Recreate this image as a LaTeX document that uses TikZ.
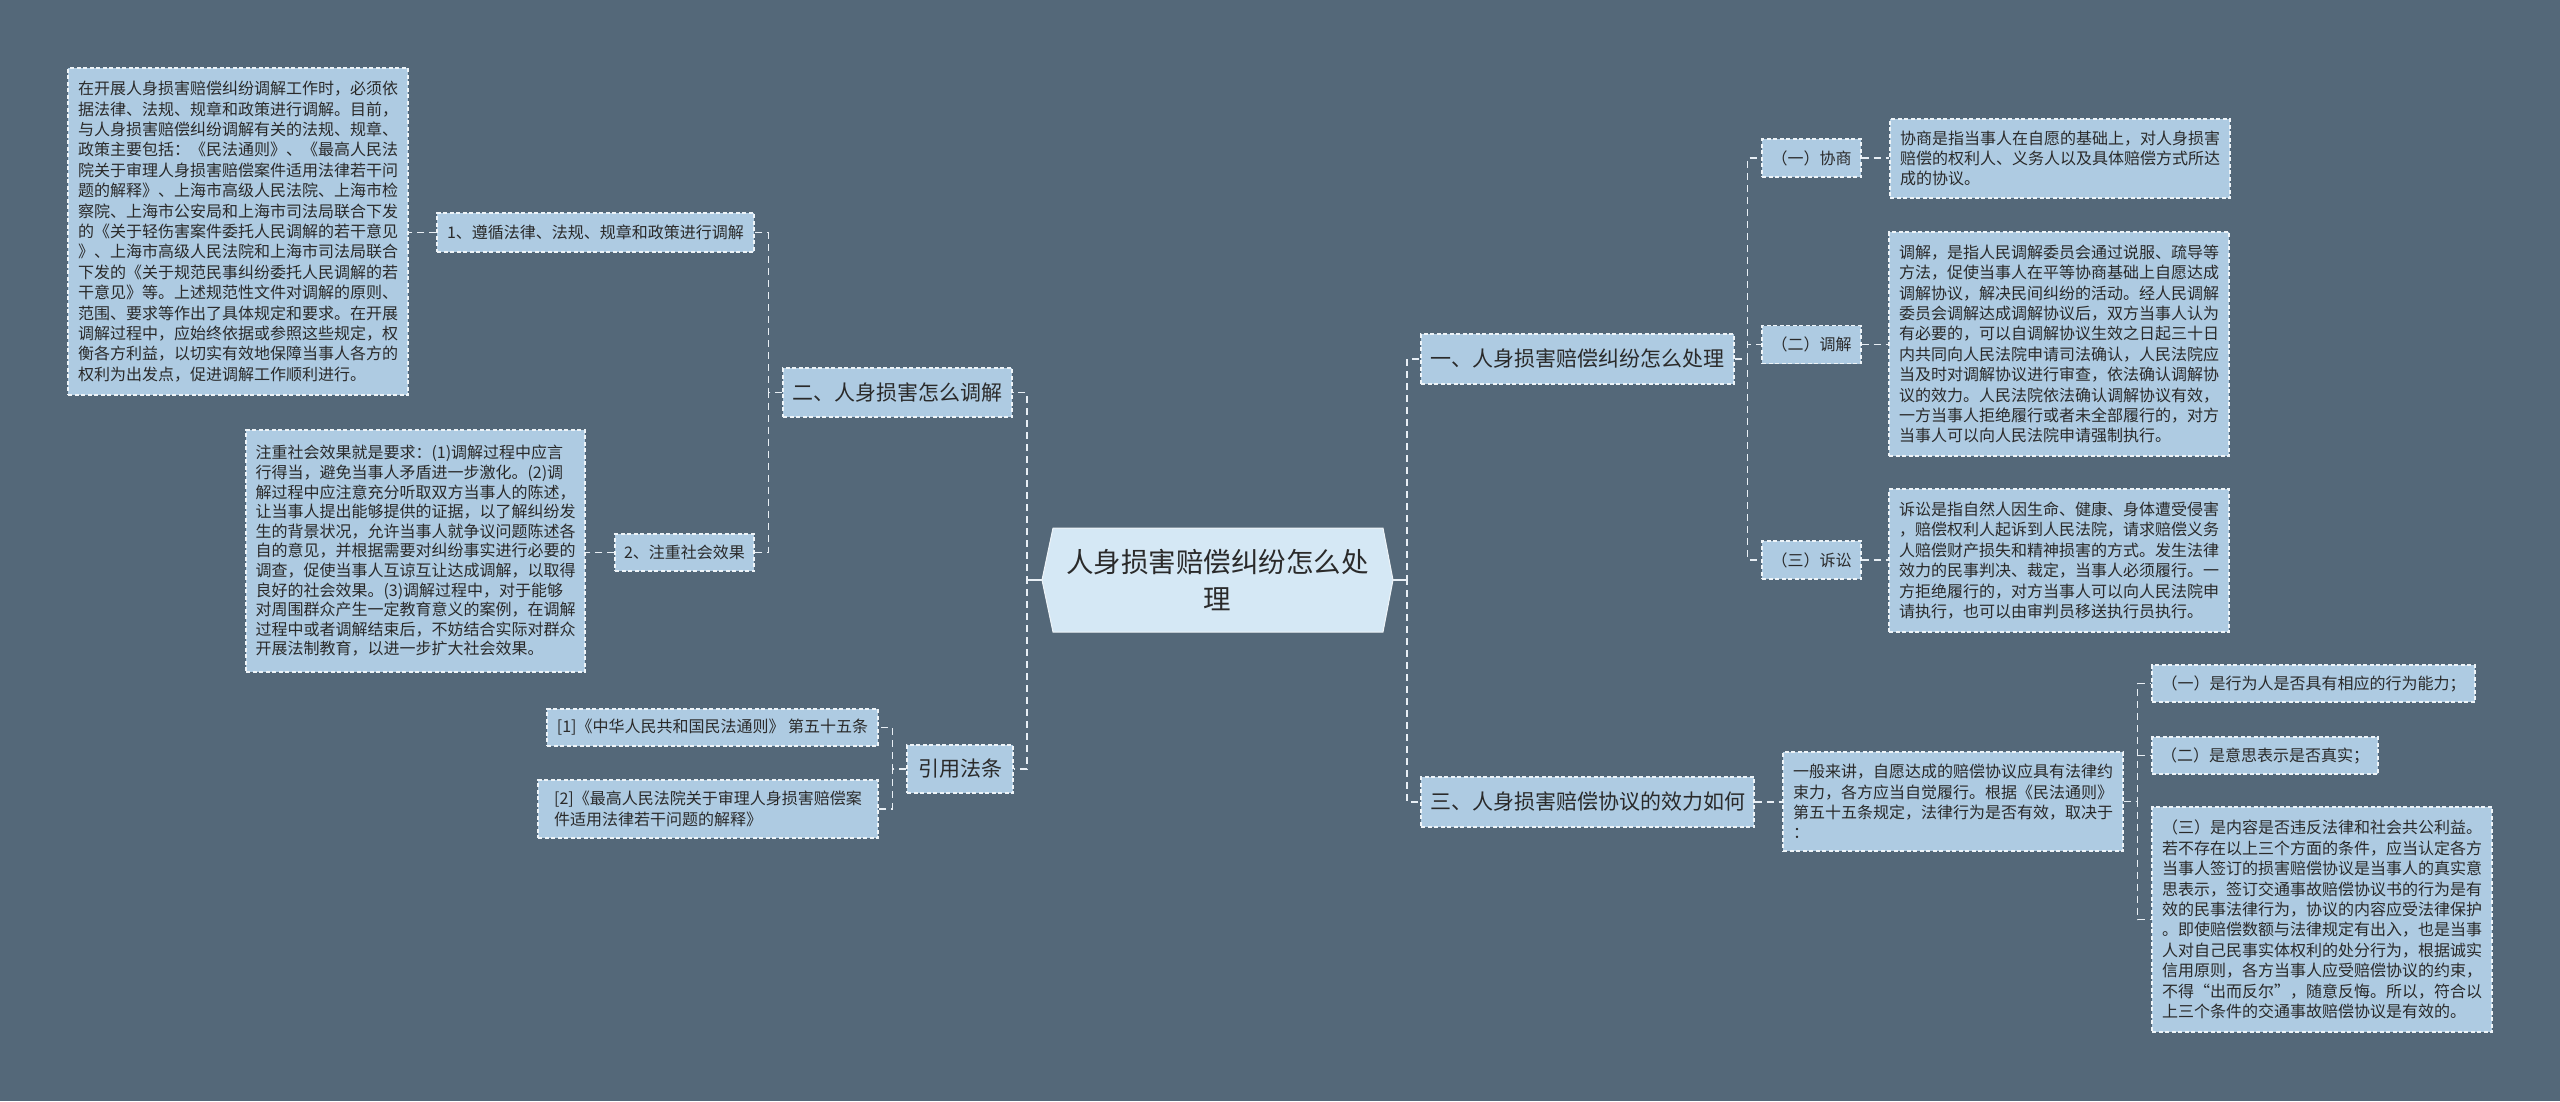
\documentclass[tikz,border=0pt]{standalone}
\usepackage{fontspec}
\setmainfont{Noto Sans CJK SC}
\definecolor{bg}{HTML}{546879}
\definecolor{nfill}{HTML}{AECBE2}
\definecolor{cfill}{HTML}{D5E8F5}
\definecolor{bord}{HTML}{EEF4F8}
\definecolor{lnc}{HTML}{E8EFF5}
\definecolor{txt}{HTML}{2A2A2A}
\tikzset{
  bx/.style={draw=bord, line width=1.2pt, dash pattern=on 4pt off 2.5pt, fill=nfill, text=txt,
    inner sep=0pt, align=left, font=\fontsize{16}{20.4}\selectfont},
  mainbx/.style={bx, font=\fontsize{21}{26}\selectfont},
  conn/.style={draw=lnc, line width=1.6pt, dash pattern=on 7pt off 5pt},
  stub/.style={draw=lnc, line width=1.6pt},
}
\begin{document}
\begin{tikzpicture}[x=1pt,y=-1pt]
\fill[bg] (0,0) rectangle (2560,1101);
\useasboundingbox (0,0) rectangle (2560,1101);

% centre
\fill[cfill] (1042,580) -- (1053,528) -- (1383,528) -- (1393,580) -- (1383,632) -- (1053,632) -- cycle;
\draw[bord, line width=1pt] (1042,580) -- (1053,528) -- (1383,528) -- (1393,580) -- (1383,632) -- (1053,632) -- cycle;
\node[inner sep=0pt, minimum width=351pt, minimum height=104pt, align=center, text=txt,
  font=\fontsize{27.5}{37}\selectfont] (C) at (1217.5,580) {人身损害赔偿纠纷怎么处\\理};

% left side
\node[mainbx, minimum width=229pt, minimum height=49pt] (L2a) at (897.5,392.5) {二、人身损害怎么调解};
\node[mainbx, minimum width=106pt, minimum height=48pt] (L2b) at (960,769) {引用法条};

\node[bx, minimum width=317pt, minimum height=39pt] (n1a) at (595.5,232.5) {1、遵循法律、法规、规章和政策进行调解};
\node[bx, minimum width=139pt, minimum height=37pt] (n1b) at (684.5,552.5) {2、注重社会效果};

\node[bx, minimum width=340pt, minimum height=327pt] (A) at (238,231.5) {在开展人身损害赔偿纠纷调解工作时，必须依\\据法律、法规、规章和政策进行调解。目前，\\与人身损害赔偿纠纷调解有关的法规、规章、\\政策主要包括：《民法通则》、《最高人民法\\院关于审理人身损害赔偿案件适用法律若干问\\题的解释》、上海市高级人民法院、上海市检\\察院、上海市公安局和上海市司法局联合下发\\的《关于轻伤害案件委托人民调解的若干意见\\》、上海市高级人民法院和上海市司法局联合\\下发的《关于规范民事纠纷委托人民调解的若\\干意见》等。上述规范性文件对调解的原则、\\范围、要求等作出了具体规定和要求。在开展\\调解过程中，应始终依据或参照这些规定，权\\衡各方利益，以切实有效地保障当事人各方的\\权利为出发点，促进调解工作顺利进行。};

\node[bx, minimum width=339pt, minimum height=242pt, font=\fontsize{16}{19.6}\selectfont] (B) at (415.5,551) {注重社会效果就是要求：(1)调解过程中应言\\行得当，避免当事人矛盾进一步激化。(2)调\\解过程中应注意充分听取双方当事人的陈述，\\让当事人提出能够提供的证据，以了解纠纷发\\生的背景状况，允许当事人就争议问题陈述各\\自的意见，并根据需要对纠纷事实进行必要的\\调查，促使当事人互谅互让达成调解，以取得\\良好的社会效果。(3)调解过程中，对于能够\\对周围群众产生一定教育意义的案例，在调解\\过程中或者调解结束后，不妨结合实际对群众\\开展法制教育，以进一步扩大社会效果。};

\node[bx, minimum width=331pt, minimum height=37pt] (R1) at (712.5,727.5) {[1]《中华人民共和国民法通则》 第五十五条};
\node[bx, minimum width=340pt, minimum height=58pt] (R2) at (708,809) {[2]《最高人民法院关于审理人身损害赔偿案\\件适用法律若干问题的解释》};

% right side
\node[mainbx, minimum width=313pt, minimum height=50pt] (M1) at (1577.5,359) {一、人身损害赔偿纠纷怎么处理};
\node[mainbx, minimum width=333pt, minimum height=50pt] (M3) at (1587.5,802) {三、人身损害赔偿协议的效力如何};

\node[bx, minimum width=99pt, minimum height=38pt] (S1) at (1811.5,158) {（一）协商};
\node[bx, minimum width=99pt, minimum height=38pt] (S2) at (1811.5,344.5) {（二）调解};
\node[bx, minimum width=99pt, minimum height=38pt] (S3) at (1811.5,560) {（三）诉讼};

\node[bx, minimum width=340pt, minimum height=79pt] (D1) at (2060,158.5) {协商是指当事人在自愿的基础上，对人身损害\\赔偿的权利人、义务人以及具体赔偿方式所达\\成的协议。};
\node[bx, minimum width=340pt, minimum height=224pt] (D2) at (2059,344) {调解，是指人民调解委员会通过说服、疏导等\\方法，促使当事人在平等协商基础上自愿达成\\调解协议，解决民间纠纷的活动。经人民调解\\委员会调解达成调解协议后，双方当事人认为\\有必要的，可以自调解协议生效之日起三十日\\内共同向人民法院申请司法确认，人民法院应\\当及时对调解协议进行审查，依法确认调解协\\议的效力。人民法院依法确认调解协议有效，\\一方当事人拒绝履行或者未全部履行的，对方\\当事人可以向人民法院申请强制执行。};
\node[bx, minimum width=340pt, minimum height=143pt] (D3) at (2059,560.5) {诉讼是指自然人因生命、健康、身体遭受侵害\\，赔偿权利人起诉到人民法院，请求赔偿义务\\人赔偿财产损失和精神损害的方式。发生法律\\效力的民事判决、裁定，当事人必须履行。一\\方拒绝履行的，对方当事人可以向人民法院申\\请执行，也可以由审判员移送执行员执行。};

\node[bx, minimum width=340pt, minimum height=99pt] (E) at (1953,801.5) {一般来讲，自愿达成的赔偿协议应具有法律约\\束力，各方应当自觉履行。根据《民法通则》\\第五十五条规定，法律行为是否有效，取决于\\：};

\node[bx, minimum width=323pt, minimum height=37pt] (F1) at (2313.5,683.5) {（一）是行为人是否具有相应的行为能力；};
\node[bx, minimum width=226pt, minimum height=37pt] (F2) at (2265,755.5) {（二）是意思表示是否真实；};
\node[bx, minimum width=340pt, minimum height=225pt] (F3) at (2322,919.5) {（三）是内容是否违反法律和社会共公利益。\\若不存在以上三个方面的条件，应当认定各方\\当事人签订的损害赔偿协议是当事人的真实意\\思表示，签订交通事故赔偿协议书的行为是有\\效的民事法律行为，协议的内容应受法律保护\\。即使赔偿数额与法律规定有出入，也是当事\\人对自己民事实体权利的处分行为，根据诚实\\信用原则，各方当事人应受赔偿协议的约束，\\不得“出而反尔”，随意反悔。所以，符合以\\上三个条件的交通事故赔偿协议是有效的。};

% connectors
\draw[conn] (C.west) -- ++(-15,0) |- (L2a.east);
\draw[conn] (C.west) -- ++(-15,0) |- (L2b.east);
\draw[stub] (C.west) -- ++(-15,0);
\draw[conn] (C.east) -- ++(14,0) |- (M1.west);
\draw[conn] (C.east) -- ++(14,0) |- (M3.west);
\draw[stub] (C.east) -- ++(14,0);

\draw[conn] (L2a.west) -- ++(-14,0) |- (n1a.east);
\draw[conn] (L2a.west) -- ++(-14,0) |- (n1b.east);
\draw[conn] (n1a.west) -- (n1a.west -| A.east);
\draw[conn] (n1b.west) -- (n1b.west -| B.east);

\draw[conn] (L2b.west) -- ++(-14,0) |- (R1.east);
\draw[conn] (L2b.west) -- ++(-14,0) |- (R2.east);

\draw[conn] (M1.east) -- ++(13,0) |- (S1.west);
\draw[conn] (M1.east) -- ++(13,0) |- (S2.west);
\draw[conn] (M1.east) -- ++(13,0) |- (S3.west);
\draw[conn] (S1.east) -- (S1.east -| D1.west);
\draw[conn] (S2.east) -- (S2.east -| D2.west);
\draw[conn] (S3.east) -- (S3.east -| D3.west);

\draw[conn] (M3.east) -- (M3.east -| E.west);
\draw[conn] (E.east) -- ++(14,0) |- (F1.west);
\draw[conn] (E.east) -- ++(14,0) |- (F2.west);
\draw[conn] (E.east) -- ++(14,0) |- (F3.west);
\end{tikzpicture}
\end{document}
